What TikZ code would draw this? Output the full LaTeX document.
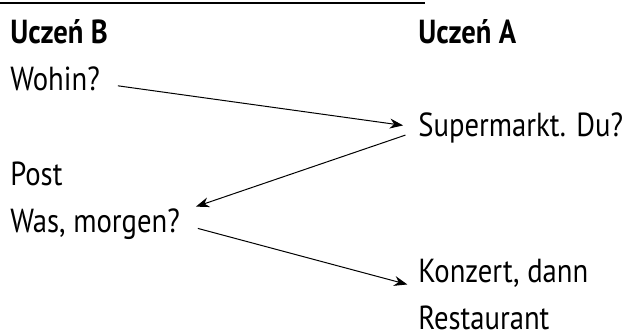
\documentclass[tikz,border=0pt]{standalone}
\usepackage{fontspec}
\setmainfont{PT Sans}[FakeStretch=0.86]
\usetikzlibrary{arrows.meta, positioning}
\tikzset{%
	txt/.style={anchor=base west, inner sep=0pt, font=\fontsize{20}{24}\selectfont},
	head/.style={txt, font=\fontsize{20}{24}\selectfont\bfseries},
	turn/.style={-{Stealth[length=8pt, width=6pt]}, line width=0.6pt},
	rule/.style={line width=0.9pt}
}

\begin{document}
\begin{tikzpicture}[x=0.6pt, y=-0.6pt]
	\useasboundingbox (0,0) rectangle (624,333);
	\draw[rule] (0,3) -- (425,3);

	\node[head] (headB) at (10,43) {Uczeń B};
	\node[head] (headA) at (418,43) {Uczeń A};
	\node[txt] (wohin) at (10,90) {Wohin?};
	\node[txt] (super) at (418,136) {Supermarkt. Du?};
	\node[txt] (post) at (10,185) {Post};
	\node[txt] (was) at (10,232) {Was, morgen?};
	\node[txt] (konzert) at (418,282) {Konzert, dann};
	\node[txt] (rest) at (418,329) {Restaurant};

	\draw[turn, shorten <=10.8pt, shorten >=9pt] ([yshift=-3pt]wohin.east) -- (super.west);
	\draw[turn, shorten <=8pt, shorten >=10pt] ([yshift=-2pt]super.west) -- ([yshift=7pt]was.east);
	\draw[turn, shorten <=11pt, shorten >=6.6pt] (was.east) -- (konzert.south west);
\end{tikzpicture}
\end{document}
